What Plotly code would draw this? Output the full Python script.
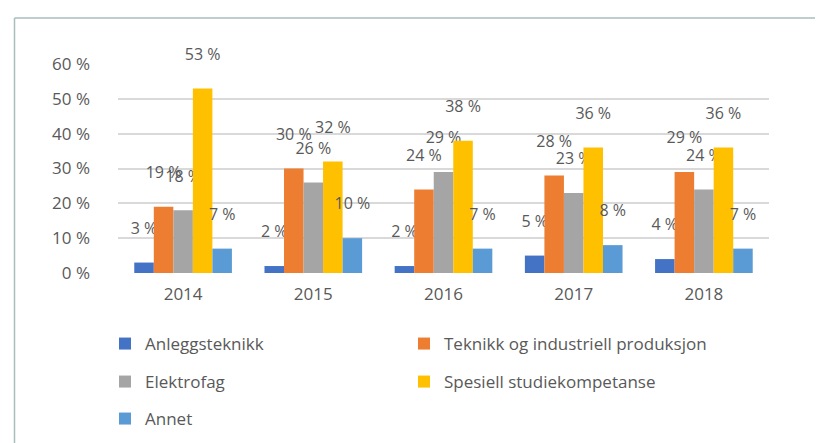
import plotly.graph_objects as go

years = ["2014", "2015", "2016", "2017", "2018"]
series_names = ["Anleggsteknikk", "Teknikk og industriell produksjon", "Elektrofag",
                "Spesiell studiekompetanse", "Annet"]
anleggsteknikk = [0.03, 0.02, 0.02, 0.05, 0.04]
teknikk = [0.19, 0.30, 0.24, 0.28, 0.29]
elektrofag = [0.18, 0.26, 0.29, 0.23, 0.24]
spesiell = [0.53, 0.32, 0.38, 0.36, 0.36]
annet = [0.07, 0.10, 0.07, 0.08, 0.07]
y_tickvals = [0, 0.1, 0.2, 0.3, 0.4, 0.5, 0.6]
y_ticktext = ["0 %", "10 %", "20 %", "30 %", "40 %", "50 %", "60 %"]

colors = ["#4472C4", "#ED7D31", "#A5A5A5", "#FFC000", "#5B9BD5"]
legends = ["legend", "legend2", "legend3", "legend4", "legend5"]
all_values = [anleggsteknikk, teknikk, elektrofag, spesiell, annet]

FONT = "Open Sans"
TXT = "#595959"
FS = 17

fig = go.Figure()
for name, vals, col, lg in zip(series_names, all_values, colors, legends):
    fig.add_trace(go.Bar(
        x=years, y=vals, name=name, legend=lg, showlegend=True,
        marker=dict(color=col, line=dict(width=0)),
        text=[f"{round(v*100)} %<br> " for v in vals],
        textposition="outside", constraintext="none", cliponaxis=False,
        textfont=dict(family=FONT, size=16, color=TXT),
        hovertemplate="%{x}: %{y:.0%}<extra>" + name + "</extra>",
    ))

W, H = 823, 443
L, R, T, B = 110, 62, 56, 178
pw, ph = W - L - R, H - T - B

def px_x(x):
    return (x - L) / pw

def px_y(y):
    return (H - B - y) / ph

legend_common = dict(orientation="v", xanchor="left", yanchor="middle",
                     font=dict(family=FONT, size=FS, color=TXT),
                     bgcolor="rgba(0,0,0,0)", itemclick=False, visible=True)

col1, col2 = 97, 396
rows = [336, 374, 411]

fig.update_layout(
    width=W, height=H,
    margin=dict(l=L, r=R, t=T, b=B),
    paper_bgcolor="white", plot_bgcolor="white",
    barmode="group", bargap=0.25, bargroupgap=0,
    font=dict(family=FONT, color=TXT),
    showlegend=True,
    legend=dict(x=px_x(col1), y=px_y(rows[0]), **legend_common),
    legend2=dict(x=px_x(col2), y=px_y(rows[0]), **legend_common),
    legend3=dict(x=px_x(col1), y=px_y(rows[1]), **legend_common),
    legend4=dict(x=px_x(col2), y=px_y(rows[1]), **legend_common),
    legend5=dict(x=px_x(col1), y=px_y(rows[2]), **legend_common),
    xaxis=dict(showline=False, ticks="", showgrid=False,
               tickfont=dict(family=FONT, size=FS, color=TXT),
               ticklabelstandoff=9),
    yaxis=dict(range=[0, 0.6], tickvals=y_tickvals, ticktext=y_ticktext,
               showgrid=True, gridcolor="#D9D9D9", gridwidth=1.5,
               zeroline=False, showline=False, ticks="",
               tickfont=dict(family=FONT, size=FS, color=TXT),
               ticklabelstandoff=27),
    shapes=[
        dict(type="line", xref="paper", yref="paper",
             x0=px_x(6.5), x1=px_x(6.5), y0=px_y(10), y1=px_y(443),
             line=dict(color="#A9BDBD", width=1.5)),
        dict(type="line", xref="paper", yref="paper",
             x0=px_x(6.5), x1=px_x(823), y0=px_y(10), y1=px_y(10),
             line=dict(color="#A9BDBD", width=1.5)),
    ],
)

fig.write_html("out.html")
